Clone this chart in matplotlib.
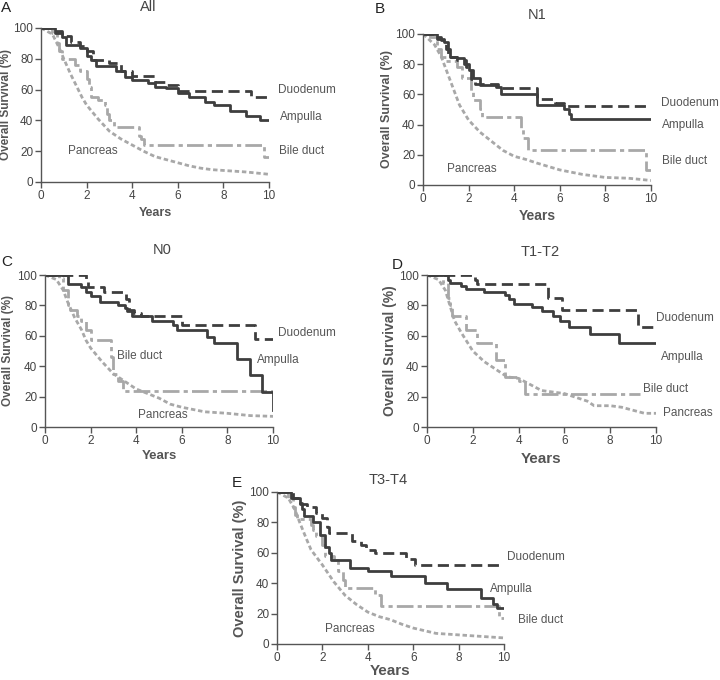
import matplotlib
matplotlib.use('Agg')
import matplotlib.pyplot as plt

plt.rcParams['font.family'] = ['Liberation Sans', 'DejaVu Sans']

# --- data (years, % survival) ---
# A: All
all_duo_t = [0, 0.5, 0.9, 1.3, 1.7, 2.0, 2.3, 3.0, 3.5, 4.0, 5.0, 5.5, 6.0, 9.2, 10]
all_duo_s = [100, 98, 95, 91, 88, 85, 79, 77, 72, 69, 65, 63, 59, 55, 55]
all_amp_t = [0, 0.6, 0.9, 1.1, 1.7, 2.0, 2.2, 2.4, 3.3, 3.7, 4.0, 4.7, 5.0, 5.5, 6.0, 6.5, 7.2, 7.6, 8.3, 9.0, 9.6, 10]
all_amp_s = [100, 97, 94, 89, 87, 82, 79, 75, 72, 68, 66, 64, 62, 61, 58, 55, 52, 50, 46, 43, 40, 40]
all_bil_t = [0, 0.5, 0.7, 0.8, 0.9, 1.5, 1.7, 2.0, 2.1, 2.2, 2.5, 2.8, 2.9, 3.0, 3.2, 4.3, 4.4, 4.5, 9.8, 10]
all_bil_s = [100, 97, 90, 85, 80, 76, 72, 67, 62, 55, 53, 50, 44, 40, 36, 30, 28, 24, 16, 16]
all_pan_t = [0, 0.5, 0.8, 1.0, 1.3, 1.5, 1.8, 2.0, 2.5, 3.0, 3.5, 4.0, 4.5, 5.0, 5.5, 6.0, 6.5, 7.0, 7.5, 8.0, 9.0, 10]
all_pan_s = [100, 96, 87, 80, 70, 64, 55, 50, 41, 33, 28, 24, 20, 16.5, 14.5, 12.5, 10.5, 9, 8, 7.5, 6.5, 5]

# B: N1
n1_duo_t = [0, 0.5, 0.8, 1.0, 1.1, 1.5, 1.9, 2.1, 2.3, 3.3, 5.0, 5.8, 6.2, 10]
n1_duo_s = [100, 98, 96, 90, 85, 83, 78, 70, 67, 64, 57, 54, 52, 52]
n1_amp_t = [0, 0.6, 0.9, 1.1, 1.2, 1.5, 1.8, 2.0, 2.2, 2.5, 3.2, 3.4, 5.0, 6.2, 6.4, 6.5, 10]
n1_amp_s = [100, 97, 95, 90, 85, 84, 80, 76, 71, 66, 65, 60, 53, 50, 47, 44, 44]
n1_bil_t = [0, 0.3, 0.6, 0.8, 1.0, 1.5, 1.7, 2.1, 2.2, 2.5, 2.6, 4.3, 4.4, 4.6, 9.8, 10]
n1_bil_s = [100, 98, 90, 85, 82, 78, 71, 62, 56, 50, 45, 38, 31, 23, 10, 10]
n1_pan_t = [0, 0.5, 0.8, 1.0, 1.3, 1.6, 2.0, 2.5, 3.0, 3.5, 4.0, 4.5, 5.0, 6.0, 7.0, 8.0, 9.0, 10]
n1_pan_s = [100, 93, 85, 77, 65, 53, 43, 35, 29, 23, 19, 17, 14.5, 10, 7, 5, 4.5, 3]

# C: N0
n0_duo_t = [0, 1.8, 1.9, 2.6, 3.55, 3.7, 3.9, 4.2, 6.0, 9.2, 10]
n0_duo_s = [100, 97, 92, 89, 84, 77, 75, 73, 67, 58, 58]
n0_amp_t = [0, 1.0, 1.6, 1.8, 2.0, 2.4, 3.2, 3.5, 3.6, 3.8, 4.7, 5.6, 5.8, 7.1, 7.4, 8.4, 9.0, 9.5, 10]
n0_amp_s = [100, 94, 92, 89, 86, 82, 80, 78, 76, 73, 70, 67, 64, 59, 55, 45, 34, 23, 11]
n0_bil_t = [0, 0.6, 0.8, 1.0, 1.1, 1.4, 1.6, 1.8, 2.0, 2.9, 3.0, 3.2, 3.4, 10]
n0_bil_s = [100, 98, 90, 80, 77, 73, 70, 64, 57, 46, 35, 30, 24, 24]
n0_pan_t = [0, 0.5, 0.8, 1.0, 1.3, 1.6, 1.8, 2.0, 2.5, 3.0, 3.5, 4.0, 4.5, 5.0, 5.5, 6.0, 7.0, 8.0, 9.0, 10]
n0_pan_s = [100, 97, 90, 82, 72, 64, 57, 52, 43, 35, 30, 25, 22, 19, 15, 13, 10, 9, 7.5, 7]

# D: T1-T2
t12_duo_t = [0, 2.1, 2.2, 5.3, 5.9, 9.2, 10]
t12_duo_s = [100, 97, 94, 85, 77, 66, 66]
t12_amp_t = [0, 0.9, 1.0, 1.5, 1.7, 2.5, 3.4, 3.6, 3.8, 4.6, 5.0, 5.5, 5.8, 6.2, 7.1, 8.4, 10]
t12_amp_s = [100, 97, 95, 93, 91, 89, 87, 84, 81, 79, 76, 73, 70, 66, 61, 55, 55]
t12_bil_t = [0, 0.7, 0.9, 1.0, 1.1, 1.7, 2.2, 3.0, 3.4, 4.0, 4.3, 9.3]
t12_bil_s = [100, 95, 85, 80, 73, 64, 55, 44, 33, 30, 22, 22]
t12_pan_t = [0, 0.5, 0.8, 1.0, 1.2, 1.5, 2.0, 2.5, 3.0, 3.5, 4.0, 4.5, 5.0, 6.0, 7.0, 7.3, 8.0, 8.5, 9.0, 9.5, 10]
t12_pan_s = [100, 97, 90, 80, 70, 62, 50, 43, 38, 33, 32, 28, 24, 22, 17, 14, 14, 13, 11, 9, 9]

# E: T3-T4
t34_duo_t = [0, 0.7, 1.0, 1.3, 1.7, 2.0, 2.2, 2.3, 3.3, 3.7, 3.9, 4.3, 5.7, 6.1, 10]
t34_duo_s = [100, 96, 92, 90, 86, 83, 77, 73, 68, 65, 62, 60, 56, 52, 52]
t34_amp_t = [0, 0.6, 1.0, 1.1, 1.2, 1.6, 1.9, 2.1, 2.3, 2.4, 3.2, 4.0, 5.0, 6.5, 7.5, 9.0, 9.5, 9.7, 10]
t34_amp_s = [100, 96, 93, 89, 84, 80, 72, 64, 60, 55, 50, 48, 45, 40, 36, 30, 26, 24, 24]
t34_bil_t = [0, 0.5, 0.7, 0.8, 0.9, 1.5, 1.6, 1.7, 2.0, 2.1, 2.5, 2.7, 2.9, 3.0, 4.3, 4.6, 9.8, 10]
t34_bil_s = [100, 96, 90, 85, 82, 78, 75, 71, 65, 58, 55, 48, 42, 37, 32, 25, 17, 17]
t34_pan_t = [0, 0.5, 0.8, 1.0, 1.3, 1.5, 2.0, 2.5, 3.0, 3.5, 4.0, 4.5, 5.0, 5.5, 6.0, 7.0, 7.5, 8.0, 9.0, 10]
t34_pan_s = [100, 96, 88, 80, 69, 62, 52, 41, 32, 26, 21, 18, 16, 13, 10.5, 7, 6.5, 6, 5, 4]

years_ticks = [0, 2, 4, 6, 8, 10]
surv_ticks = [0, 20, 40, 60, 80, 100]

DARK = '#3e3e3e'
LIGHT = '#a8a8a8'
TXT = '#555555'
W, H = 720, 680

fig = plt.figure(figsize=(7.2, 6.8), dpi=100)


def px(x, y):
    return x / W, 1 - y / H


def panel(box, letter, letter_xy, title, title_xy, curves, labels, ylab_fs, ylab_x, xlab_fs, xlab_y):
    # box, letter_xy, title_xy, ylab_x, xlab_y are in picture pixels
    x0, y0, x1, y1 = box
    ax = fig.add_axes([x0 / W, 1 - y1 / H, (x1 - x0) / W, (y1 - y0) / H])
    duo, amp, bil, pan = curves
    ax.plot(pan[0], pan[1], color=LIGHT, lw=2, dashes=(1.6, 1.0))
    ax.step(bil[0], bil[1], where='post', color=LIGHT, lw=2, dashes=(6, 1.5, 1.5, 1.5))
    ax.step(duo[0], duo[1], where='post', color=DARK, lw=2, dashes=(4, 2))
    ax.step(amp[0], amp[1], where='post', color=DARK, lw=2)
    ax.set_xlim(0, 10)
    ax.set_ylim(0, 100)
    ax.set_xticks(years_ticks)
    ax.set_yticks(surv_ticks)
    for s in ['top', 'right']:
        ax.spines[s].set_visible(False)
    for s in ['left', 'bottom']:
        ax.spines[s].set_color('#555555')
        ax.spines[s].set_linewidth(1.0)
    ax.tick_params(colors='#555555', labelcolor='#444444', labelsize=8.5, length=4, width=1, pad=1.5)
    for name, (lx, ly) in zip(['Duodenum', 'Ampulla', 'Bile duct', 'Pancreas'], labels):
        ax.text(lx, ly, name, fontsize=8.5, color=TXT, va='center', ha='left', clip_on=False)
    ax.set_ylabel('Overall Survival (%)', fontsize=ylab_fs, color=TXT, fontweight='bold')
    ax.yaxis.set_label_coords((ylab_x - x0) / (x1 - x0), 0.5)
    ax.set_xlabel('Years', fontsize=xlab_fs, color=TXT, fontweight='bold')
    ax.xaxis.set_label_coords(0.5, (y1 - xlab_y) / (y1 - y0))
    fig.text(*px(*letter_xy), letter, fontsize=11, color='#222222', ha='left', va='center')
    fig.text(*px(*title_xy), title, fontsize=10.5, color='#444444', ha='center', va='center')
    return ax


panel((41, 28, 269, 182), 'A', (1, 8), 'All', (148, 7),
      [(all_duo_t, all_duo_s), (all_amp_t, all_amp_s), (all_bil_t, all_bil_s), (all_pan_t, all_pan_s)],
      [(10.4, 60), (10.5, 42), (10.45, 20), (1.2, 20)], 8.5, 12, 9, 207)

panel((423, 34, 651, 185), 'B', (375, 9), 'N1', (537, 15),
      [(n1_duo_t, n1_duo_s), (n1_amp_t, n1_amp_s), (n1_bil_t, n1_bil_s), (n1_pan_t, n1_pan_s)],
      [(10.45, 54), (10.5, 40), (10.5, 16), (1.05, 10.5)], 9, 393, 10, 209)

panel((45, 275, 273, 427), 'C', (1, 262), 'N0', (162, 250),
      [(n0_duo_t, n0_duo_s), (n0_amp_t, n0_amp_s), (n0_bil_t, n0_bil_s), (n0_pan_t, n0_pan_s)],
      [(10.2, 62), (9.3, 44), (3.15, 47), (4.1, 8)], 8.5, 14, 9.5, 450)

panel((427, 275, 656, 427), 'D', (392, 265), 'T1-T2', (540, 252),
      [(t12_duo_t, t12_duo_s), (t12_amp_t, t12_amp_s), (t12_bil_t, t12_bil_s), (t12_pan_t, t12_pan_s)],
      [(10.0, 72), (10.2, 46), (9.45, 25), (10.3, 9)], 10, 397, 11, 452)

panel((277, 492, 504, 644), 'E', (232, 483), 'T3-T4', (388, 480),
      [(t34_duo_t, t34_duo_s), (t34_amp_t, t34_amp_s), (t34_bil_t, t34_bil_s), (t34_pan_t, t34_pan_s)],
      [(10.13, 57), (9.4, 36), (10.6, 16), (2.1, 10)], 10.5, 247, 11, 664)

fig.savefig('out.png', dpi=100)
